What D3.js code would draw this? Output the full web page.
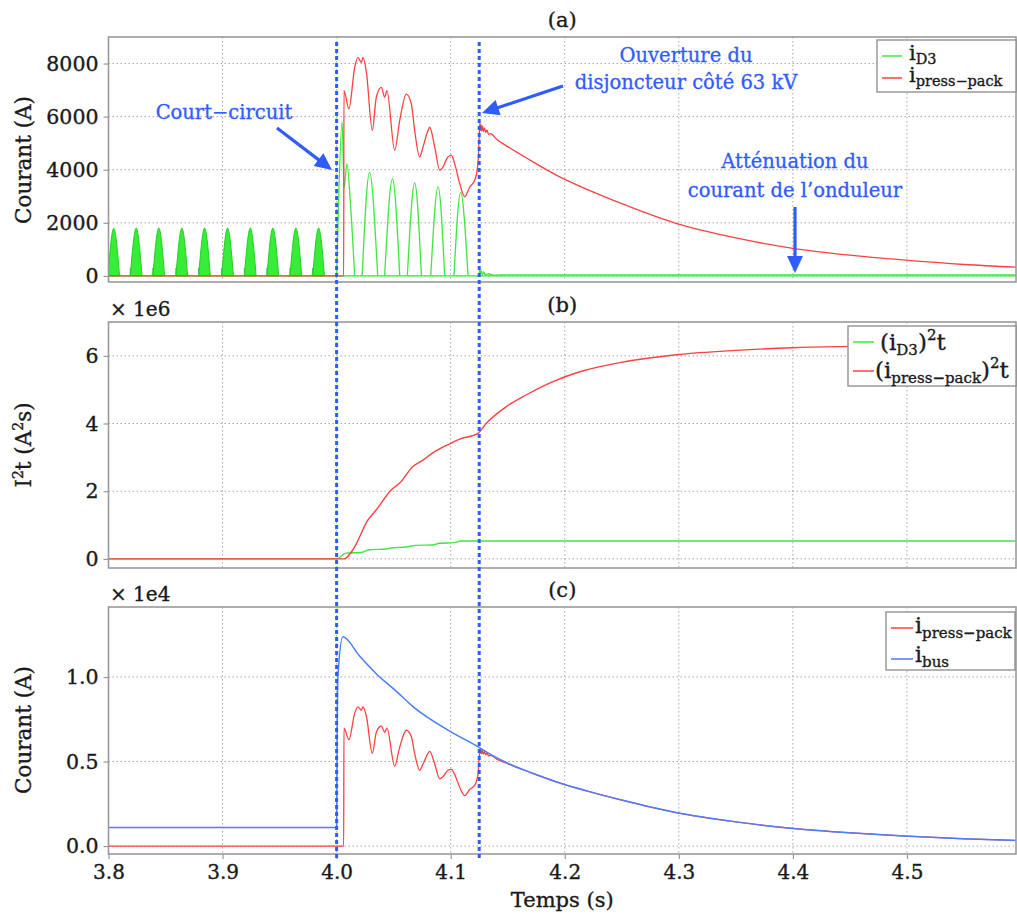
<!DOCTYPE html>
<html><head><meta charset="utf-8">
<script src="https://cdn.jsdelivr.net/npm/d3@7"></script>
<style>
html,body{margin:0;padding:0;background:#fff;}
svg{display:block;font-family:"DejaVu Serif",serif;}
.ink{stroke:#1a1a1a;stroke-width:0.35px;}
.ann{stroke:#2f5cff;stroke-width:0.3px;}
</style></head><body>
<svg id="chart" width="1017" height="915"></svg>
<script>
// ---------------- DATA ----------------
const xTicks = [3.8, 3.9, 4.0, 4.1, 4.2, 4.3, 4.4, 4.5];
const eventTimes = [4.0, 4.125];
const yTicksA = [0, 2000, 4000, 6000, 8000];
const yTicksB = [0, 2e6, 4e6, 6e6];
const yTicksC = [0, 5000, 10000];

// i_D3 before the short circuit (half-wave pulses)
const preHumpStart = [3.7995, 3.8191, 3.8389, 3.8591, 3.8790, 3.8992, 3.9191, 3.9389, 3.9591, 3.9790];
const preHumpPeak  = [3.8046, 3.8243, 3.8441, 3.8643, 3.8842, 3.9044, 3.9243, 3.9441, 3.9643, 3.9842];
const preHumpEnd   = [3.8097, 3.8294, 3.8492, 3.8694, 3.8893, 3.9095, 3.9294, 3.9492, 3.9694, 3.9893];
const preHumpValue = [1790, 1800, 1800, 1800, 1800, 1800, 1800, 1800, 1800, 1800];

// i_D3 first spike at the fault
const faultSpikeT = [4.0, 4.0013, 4.0048, 4.0066, 4.0090, 4.0123, 4.0158];
const faultSpikeV = [0, 2200, 5800, 3300, 4230, 2600, 0];

// i_D3 half-waves after the fault
const postHumpStart = [4.0224, 4.0421, 4.0620, 4.0825, 4.1029];
const postHumpPeak  = [4.0289, 4.0489, 4.0684, 4.0889, 4.1088];
const postHumpEnd   = [4.0360, 4.0553, 4.0743, 4.0947, 4.1152];
const postHumpValue = [3900, 3650, 3500, 3350, 3150];

// i_D3 tail after breaker opening
const tailT = [4.1250, 4.1254, 4.1260, 4.1268, 4.1278, 4.1290, 4.1305, 4.1330, 4.1370, 4.1450, 4.5956];
const tailV = [0, 290, 60, 200, 40, 140, 30, 80, 25, 40, 40];

// i_press-pack
const pressT = [3.8, 4.0062, 4.0064, 4.0108, 4.0158, 4.0187, 4.0217, 4.0231, 4.0261, 4.0313, 4.0348, 4.0392, 4.0421, 4.0441,
  4.0509, 4.0553, 4.0611, 4.0655, 4.0684, 4.0728, 4.0757, 4.0801, 4.0816, 4.0860, 4.0904, 4.0932, 4.0976, 4.1006, 4.1035,
  4.1079, 4.1123, 4.1167, 4.1211, 4.1239, 4.1254, 4.1257, 4.1261, 4.1266, 4.1272, 4.1279, 4.1287, 4.1296, 4.1306, 4.1318,
  4.1332, 4.1350, 4.1400, 4.1500, 4.1700, 4.1956, 4.2200, 4.2500, 4.2975, 4.3500, 4.4000, 4.4500, 4.4965, 4.5500, 4.5956];
const pressV = [0, 0, 6980, 6290, 7850, 8230, 8040, 8230, 7670, 5480, 6730, 7100, 6730, 6980,
  4730, 5850, 6850, 6480, 5480, 4480, 4850, 5480, 5600, 4850, 3980, 4100, 4480, 4540, 4230,
  3480, 2980, 3350, 3600, 4230, 5600, 5750, 5480, 5700, 5460, 5650, 5440, 5580, 5400, 5500,
  5330, 5360, 5160, 4870, 4350, 3730, 3250, 2720, 1980, 1430, 1040, 780, 600, 430, 330];

// i_bus
const busT = [3.8, 4.0, 4.0004, 4.0011, 4.0055, 4.0200, 4.0377, 4.0500, 4.0669, 4.0991, 4.1239, 4.1350, 4.1500,
  4.1700, 4.1956, 4.2200, 4.2500, 4.2975, 4.3500, 4.4000, 4.4500, 4.4965, 4.5500, 4.5956];
const busV = [1100, 1100, 6000, 10000, 12380, 11250, 10000, 9300, 8250, 6800, 5880, 5420, 4900,
  4350, 3730, 3250, 2720, 1980, 1430, 1040, 780, 600, 430, 330];

// (i_press-pack)^2 t
const i2tPressT = [3.8, 4.0065, 4.0143, 4.0275, 4.0348, 4.0480, 4.0553, 4.0669, 4.0757, 4.0860, 4.0991, 4.1079,
  4.1239, 4.1313, 4.1488, 4.1664, 4.1897, 4.2132, 4.2482, 4.3000, 4.3500, 4.4000, 4.4500, 4.5000, 4.5956];
const i2tPressV = [0, 0, 0.27e6, 1.15e6, 1.45e6, 2.04e6, 2.24e6, 2.73e6, 2.92e6, 3.17e6, 3.40e6, 3.54e6,
  3.71e6, 4.01e6, 4.50e6, 4.85e6, 5.24e6, 5.53e6, 5.80e6, 6.04e6, 6.16e6, 6.24e6, 6.28e6, 6.31e6, 6.33e6];

// (i_D3)^2 t
const i2tD3T = [3.8, 4.0, 4.0080, 4.0214, 4.0287, 4.0434, 4.0492, 4.0609, 4.0696, 4.0842, 4.0901, 4.1032, 4.1091, 4.5956];
const i2tD3V = [0, 0, 0.17e6, 0.19e6, 0.27e6, 0.29e6, 0.33e6, 0.35e6, 0.40e6, 0.41e6, 0.46e6, 0.48e6, 0.53e6, 0.53e6];

// ---------------- STYLE ----------------
const GREEN = "#3ee83e", RED = "#ff4040", BLUE = "#4a7dff", ANN = "#2f5cff";
const FRAME = "#9a9a9a", GRID = "#a8a8a8", INK = "#1a1a1a";

const svg = d3.select("#chart");
const x = d3.scaleLinear().domain([3.8, 4.5956]).range([108.5, 1016]);
const XL = 108.5, XR = 1016;

const panels = [
  {id: "a", top: 37, bottom: 282, dom: [-230, 9000], ticks: yTicksA, fmt: d3.format("d"), title: "(a)"},
  {id: "b", top: 322, bottom: 568, dom: [-0.27e6, 7.0e6], ticks: yTicksB, fmt: v => d3.format("d")(v / 1e6), title: "(b)", mult: "× 1e6"},
  {id: "c", top: 607, bottom: 854, dom: [-470, 14140], ticks: yTicksC, fmt: v => d3.format(".1f")(v / 1e4), title: "(c)", mult: "× 1e4"}
];

const defs = svg.append("defs");
panels.forEach(p => {
  p.y = d3.scaleLinear().domain(p.dom).range([p.bottom, p.top]);
  defs.append("clipPath").attr("id", "clip-" + p.id)
    .append("rect").attr("x", XL).attr("y", p.top).attr("width", XR - XL).attr("height", p.bottom - p.top);
  const g = svg.append("g");
  p.g = g;
  g.selectAll(".vg").data(xTicks.slice(1)).join("line")
    .attr("x1", d => x(d)).attr("x2", d => x(d)).attr("y1", p.top).attr("y2", p.bottom)
    .attr("stroke", GRID).attr("stroke-width", 1).attr("stroke-dasharray", "1.5,2.5");
  g.selectAll(".hg").data(p.ticks).join("line")
    .attr("x1", XL).attr("x2", XR).attr("y1", d => p.y(d)).attr("y2", d => p.y(d))
    .attr("stroke", GRID).attr("stroke-width", 1).attr("stroke-dasharray", "1.5,2.5");
  p.plot = g.append("g").attr("clip-path", "url(#clip-" + p.id + ")");
  const ax = g.append("g").attr("transform", `translate(${XL},0)`)
    .call(d3.axisLeft(p.y).tickValues(p.ticks).tickFormat(p.fmt).tickSize(5).tickPadding(5));
  ax.select(".domain").remove();
  ax.selectAll(".tick line").attr("stroke", FRAME).attr("stroke-width", 1.2);
  ax.selectAll(".tick text").attr("font-family", "DejaVu Serif").attr("font-size", 20.5).attr("fill", INK).attr("class", "ink");
  svg.append("text").attr("x", (XL + XR) / 2).attr("y", p.top - 10).attr("text-anchor", "middle")
    .attr("font-size", 21).attr("fill", INK).attr("class", "ink").text(p.title);
  if (p.mult) svg.append("text").attr("x", 110).attr("y", p.top - 6).attr("font-size", 20).attr("fill", INK).attr("class", "ink").text(p.mult);
});

const pc = panels[2];
const xa = svg.append("g").attr("transform", `translate(0,${pc.bottom})`)
  .call(d3.axisBottom(x).tickValues(xTicks).tickFormat(d3.format(".1f")).tickSize(5).tickPadding(6));
xa.select(".domain").remove();
xa.selectAll(".tick line").attr("stroke", FRAME).attr("stroke-width", 1.2);
xa.selectAll(".tick text").attr("font-family", "DejaVu Serif").attr("font-size", 20).attr("fill", INK).attr("class", "ink");
svg.append("text").attr("x", (XL + XR) / 2).attr("y", 907).attr("text-anchor", "middle")
  .attr("font-size", 21).attr("fill", INK).attr("class", "ink").text("Temps (s)");

function ylabel(cy, build) {
  const t = svg.append("text").attr("transform", `translate(31,${cy}) rotate(-90)`)
    .attr("text-anchor", "middle").attr("font-size", 21.5).attr("fill", INK).attr("class", "ink");
  build(t);
}
ylabel(160, t => t.text("Courant (A)"));
ylabel(730, t => t.text("Courant (A)"));
ylabel(445, t => {
  t.append("tspan").text("I");
  t.append("tspan").attr("font-size", 14).attr("dy", -8).text("2");
  t.append("tspan").attr("dy", 8).text("t (A");
  t.append("tspan").attr("font-size", 14).attr("dy", -8).text("2");
  t.append("tspan").attr("dy", 8).text("s)");
});

// ---------------- SERIES ----------------
const pa = panels[0], pb = panels[1];
const lineA = d3.line().x(d => x(d[0])).y(d => pa.y(d[1]));
const monoA = d3.line().x(d => x(d[0])).y(d => pa.y(d[1])).curve(d3.curveMonotoneX);
const natA = d3.line().x(d => x(d[0])).y(d => pa.y(d[1])).curve(d3.curveNatural);
const areaA = d3.area().x(d => x(d[0])).y0(pa.y(0)).y1(d => pa.y(d[1])).curve(d3.curveNatural);

pa.plot.append("path").attr("d", lineA([[3.8, 0], [4.5956, 0]])).attr("stroke", GREEN).attr("stroke-width", 1.3).attr("fill", "none");
preHumpPeak.forEach((pk, i) => {
  const pts = [[preHumpStart[i], 0], [pk, preHumpValue[i]], [preHumpEnd[i], 0]];
  pa.plot.append("path").attr("d", areaA(pts)).attr("fill", "#2cec2c").attr("fill-opacity", 0.95)
    .attr("stroke", "#1fcf1f").attr("stroke-width", 1);
  pa.plot.append("line").attr("x1", x(preHumpStart[i])).attr("x2", x(preHumpStart[i]))
    .attr("y1", pa.y(0)).attr("y2", pa.y(300)).attr("stroke", "#1fcf1f").attr("stroke-width", 1);
});
pa.plot.append("path").attr("d", monoA(d3.zip(faultSpikeT, faultSpikeV)))
  .attr("stroke", GREEN).attr("stroke-width", 1.3).attr("fill", "none");
postHumpPeak.forEach((pk, i) => {
  const pts = [[postHumpStart[i], 0], [pk, postHumpValue[i]], [postHumpEnd[i], 0]];
  pa.plot.append("path").attr("d", natA(pts)).attr("stroke", GREEN).attr("stroke-width", 1.3).attr("fill", "none");
});
pa.plot.append("path").attr("d", lineA(d3.zip(tailT, tailV))).attr("stroke", GREEN).attr("stroke-width", 1.3).attr("fill", "none");
pa.plot.append("path").attr("d", monoA(d3.zip(pressT, pressV))).attr("stroke", RED).attr("stroke-width", 1.3).attr("fill", "none");

const lineB = d3.line().x(d => x(d[0])).y(d => pb.y(d[1])).curve(d3.curveMonotoneX);
pb.plot.append("path").attr("d", lineB(d3.zip(i2tD3T, i2tD3V))).attr("stroke", GREEN).attr("stroke-width", 1.4).attr("fill", "none");
pb.plot.append("path").attr("d", lineB(d3.zip(i2tPressT, i2tPressV))).attr("stroke", RED).attr("stroke-width", 1.4).attr("fill", "none");

const lineCs = d3.line().x(d => x(d[0])).y(d => pc.y(d[1])).curve(d3.curveMonotoneX);
pc.plot.append("path").attr("d", lineCs(d3.zip(pressT, pressV))).attr("stroke", RED).attr("stroke-width", 1.3).attr("fill", "none");
pc.plot.append("path").attr("d", lineCs(d3.zip(busT, busV))).attr("stroke", BLUE).attr("stroke-width", 1.5).attr("fill", "none");

panels.forEach(p => {
  svg.append("rect").attr("x", XL).attr("y", p.top).attr("width", XR - XL).attr("height", p.bottom - p.top)
    .attr("fill", "none").attr("stroke", FRAME).attr("stroke-width", 1.6);
});

// ---------------- LEGENDS ----------------
function legend(bx, by, bw, bh, items) {
  const g = svg.append("g");
  g.append("rect").attr("x", bx).attr("y", by).attr("width", bw).attr("height", bh)
    .attr("fill", "#fff").attr("stroke", "#8a8a8a").attr("stroke-width", 1.3);
  items.forEach(it => {
    g.append("line").attr("x1", it.lx1).attr("x2", it.lx2).attr("y1", it.ly).attr("y2", it.ly)
      .attr("stroke", it.color).attr("stroke-width", 1.5);
    const t = g.append("text").attr("x", it.tx).attr("y", it.ty).attr("font-size", it.fs || 23)
      .attr("fill", INK).attr("class", "ink");
    it.parts.forEach(([s, kind]) => {
      if (kind === "sub") t.append("tspan").attr("font-size", it.sfs || 15).attr("dy", it.sdy || 5).text(s);
      else if (kind === "back") t.append("tspan").attr("dy", -5).text(s);
      else if (kind === "sup") t.append("tspan").attr("font-size", 15).attr("dy", -10).text(s);
      else if (kind === "supback") t.append("tspan").attr("dy", 10).text(s);
      else t.append("tspan").text(s);
    });
  });
}
legend(877, 40, 139, 52, [
  {color: GREEN, lx1: 882, lx2: 902, ly: 56, tx: 909, ty: 60, fs: 21, sfs: 14.5, sdy: 4, parts: [["i"], ["D3", "sub"]]},
  {color: RED, lx1: 882, lx2: 902, ly: 78, tx: 909, ty: 82, fs: 21, sfs: 14.5, sdy: 4, parts: [["i"], ["press−pack", "sub"]]}
]);
legend(848, 326, 168, 60, [
  {color: GREEN, lx1: 853, lx2: 874, ly: 342, tx: 880, ty: 350, parts: [["(i"], ["D3", "sub"], [")", "back"], ["2", "sup"], ["t", "supback"]]},
  {color: RED, lx1: 853, lx2: 874, ly: 371, tx: 875, ty: 378, parts: [["(i"], ["press−pack", "sub"], [")", "back"], ["2", "sup"], ["t", "supback"]]}
]);
legend(886, 612, 129, 58, [
  {color: RED, lx1: 891, lx2: 913, ly: 628, tx: 915, ty: 633, fs: 22, parts: [["i"], ["press−pack", "sub"]]},
  {color: BLUE, lx1: 891, lx2: 913, ly: 659, tx: 915, ty: 662, fs: 22, parts: [["i"], ["bus", "sub"]]}
]);

// ---------------- EVENT LINES & ANNOTATIONS ----------------
svg.selectAll(".ev").data(eventTimes).join("line")
  .attr("x1", d => x(d)).attr("x2", d => x(d)).attr("y1", 42).attr("y2", 858)
  .attr("stroke", "#2a5cff").attr("stroke-width", 3).attr("stroke-dasharray", "4,3");

function arrow(x1, y1, x2, y2) {
  const dx = x2 - x1, dy = y2 - y1, L = Math.hypot(dx, dy), ux = dx / L, uy = dy / L;
  const hl = 17, hw = 8;
  const bx = x2 - ux * hl, by = y2 - uy * hl;
  svg.append("line").attr("x1", x1).attr("y1", y1).attr("x2", bx + ux * 2).attr("y2", by + uy * 2)
    .attr("stroke", ANN).attr("stroke-width", 3.2);
  svg.append("path").attr("d", `M${x2},${y2}L${bx - uy * hw},${by + ux * hw}L${bx + uy * hw},${by - ux * hw}Z`).attr("fill", ANN);
}
function ann(txt, cx, by) {
  svg.append("text").attr("x", cx).attr("y", by).attr("text-anchor", "middle").attr("font-size", 19.5)
    .attr("fill", ANN).attr("class", "ann").text(txt);
}
ann("Court−circuit", 224, 119);
arrow(277, 128, 332, 170);
ann("Ouverture du", 686, 62);
ann("disjoncteur côté 63 kV", 686, 89);
arrow(563, 86, 482, 113);
ann("Atténuation du", 795, 168);
ann("courant de l’onduleur", 795, 197);
arrow(795, 207, 795, 273);
</script>
</body></html>
